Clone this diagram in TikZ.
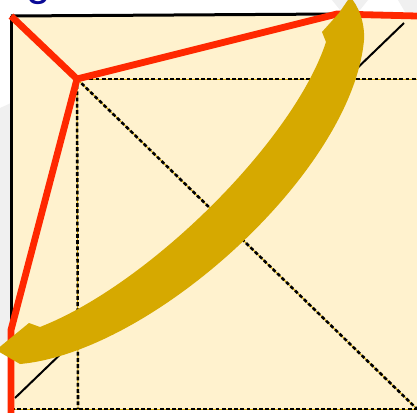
\documentclass[tikz,border=0pt]{standalone}
\usepackage{fontspec}
\setsansfont{Liberation Sans}
\definecolor{cream}{RGB}{255,242,206}
\definecolor{goldband}{RGB}{214,169,0}
\definecolor{redline}{RGB}{255,40,0}
\definecolor{faint}{RGB}{240,240,240}
\definecolor{titleblue}{RGB}{10,10,150}
\tikzset{
  foldline/.style={black, line width=2.6pt, dash pattern=on 3.8pt off 2.4pt},
  foldunder/.style={goldband, line width=0.9pt},
  edge/.style={black, line width=3pt},
  crease/.style={redline, line width=6.8pt, line join=miter},
  thinline/.style={black, line width=2pt}
}
\begin{document}
\begin{tikzpicture}[x=1pt, y=-1pt]
\useasboundingbox (0,0) rectangle (417,412);
\clip (0,0) rectangle (417,412);
\fill[white] (0,0) rectangle (417,412);
% faint background shapes
\fill[faint] (0,108) -- (11,103) -- (11,350) -- (0,350) -- cycle;
\fill[faint] (332,0) -- (368,0) -- (356,15) -- (344,15) -- cycle;
\fill[faint] (398,0) -- (417,0) -- (417,12) -- (405,12) -- cycle;
% title fragment
\node[titleblue, font=\sffamily\fontsize{44}{44}\selectfont, anchor=base] (title) at (39,-4) {g};
% named points
\coordinate (TL) at (11,16);
\coordinate (TR) at (417,16);
\coordinate (BL) at (11,409);
\coordinate (BR) at (417,409);
\coordinate (P) at (77,79);
\coordinate (PR) at (417,79);
\coordinate (PB) at (78,409);
\coordinate (TM) at (337,14);
\coordinate (LM) at (11,330);
\coordinate (LB) at (11,414);
\coordinate (DA) at (15,398);
\coordinate (DB) at (404,23);
% paper
\fill[cream] (TL) rectangle (420,409);
% fold lines
\foreach \a/\b in {P/PR, P/PB, P/BR, BL/BR}{
  \draw[foldunder] (\a) -- (\b);
  \draw[foldline] (\a) -- (\b);
}
\draw[thinline] (DA) -- (DB);
% edges
\draw[edge] (TL) -- (TM);
\draw[edge] (TL) -- (LM);
% red creases
\draw[crease] (TL) -- (P) -- (TM) -- (TR);
\draw[crease] (P) -- (LM) -- (LB);
% gold curved band
\fill[goldband] (-4,350) -- (29,323) -- (40,327)
  .. controls (150,284) and (294,140) .. (326,42)
  -- (322,32) -- (339,13) -- (350,-3)
  .. controls (358,5) and (365,22) .. (364,40)
  .. controls (352,172) and (152,352) .. (20,364)
  -- cycle;
\end{tikzpicture}
\end{document}
